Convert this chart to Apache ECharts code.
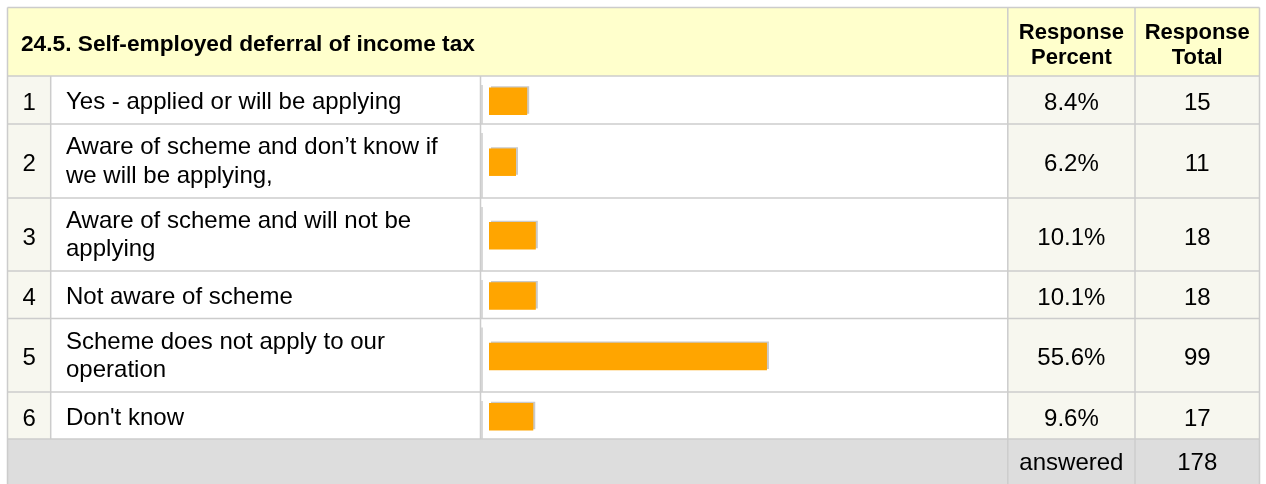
<!DOCTYPE html>
<html><head><meta charset="utf-8">
<script src="https://cdn.jsdelivr.net/npm/echarts@6/dist/echarts.min.js"></script>
<style>html,body{margin:0;padding:0;background:#fff}#c{width:1266px;height:484px}</style>
</head><body><div id="c"></div>
<script>
// ---- data ----
const title = '24.5. Self-employed deferral of income tax';
const columnHeaders = ['Response\nPercent', 'Response\nTotal'];
const rowNumbers = ['1', '2', '3', '4', '5', '6'];
const categories = [
  'Yes - applied or will be applying',
  'Aware of scheme and don\u2019t know if\nwe will be applying,',
  'Aware of scheme and will not be\napplying',
  'Not aware of scheme',
  'Scheme does not apply to our\noperation',
  "Don't know"
];
const percentValues = [8.4, 6.2, 10.1, 10.1, 55.6, 9.6];
const totalValues = [15, 11, 18, 18, 99, 17];
const answeredLabel = 'answered';
const answeredTotal = 178;

// ---- layout ----
const FONT = '"Liberation Sans", Arial, Helvetica, sans-serif';
const BODY = '24px ' + FONT;
const BOLD_T = 'bold 22.7px ' + FONT;
const BOLD_H = 'bold 22px ' + FONT;
const L = 7.5, R = 1259.5;
const colX = [L, 50.7, 480.5, 1007.8, 1135, R];
const headerTop = 7.5;
const rowBounds = [76, 124, 198, 271, 318.5, 392, 439];
const footerBottom = 492;
const BORDER = '#CCCCCC';
const CELL_BG = '#F7F7EF';
const HEAD_BG = '#FFFFCC';
const FOOT_BG = '#DDDDDD';
const ZERO_X = 484.5, PX_PER_PCT = 5.08, CLIP_X = 489, GRID_W = 520;
const X_MIN = (CLIP_X - ZERO_X) / PX_PER_PCT;
const X_MAX = X_MIN + GRID_W / PX_PER_PCT;

const g = [];
function rect(x, y, w, h, fill, z) { g.push({type: 'rect', silent: true, z: z || 0, shape: {x, y, width: w, height: h}, style: {fill}}); }
function line(x1, y1, x2, y2, w) { g.push({type: 'line', silent: true, z: 5, shape: {x1, y1, x2, y2}, style: {stroke: BORDER, lineWidth: w || 1.5}}); }
function text(t, x, y, font, align, lh) {
  g.push({type: 'text', silent: true, z: 20, style: {text: t, x, y, font, fill: '#000', align: align, verticalAlign: 'middle', lineHeight: lh || 28.5}});
}

// backgrounds
rect(L, headerTop, R - L, rowBounds[0] - headerTop, HEAD_BG);
rect(L, rowBounds[6], R - L, footerBottom - rowBounds[6], FOOT_BG);
for (let i = 0; i < 6; i++) {
  const t = rowBounds[i], h = rowBounds[i + 1] - rowBounds[i];
  rect(colX[0], t, colX[1] - colX[0], h, CELL_BG);
  rect(colX[1], t, colX[3] - colX[1], h, '#FFFFFF');
  rect(colX[3], t, colX[5] - colX[3], h, CELL_BG);
}
// grid lines
line(L, headerTop, R, headerTop);
rowBounds.forEach(y => line(L, y, R, y));
line(L, headerTop, L, footerBottom);
line(R, headerTop, R, footerBottom);
line(colX[3], headerTop, colX[3], footerBottom);
line(colX[4], headerTop, colX[4], footerBottom);
line(colX[1], rowBounds[0], colX[1], rowBounds[6]);
line(colX[2], rowBounds[0], colX[2], rowBounds[6]);
for (let i = 0; i < 6; i++) line(colX[2] + 1.5, rowBounds[i] + 9, colX[2] + 1.5, rowBounds[i + 1]);

// texts
text(title, 21, 45, BOLD_T, 'left');
text(columnHeaders[0], (colX[3] + colX[4]) / 2, 45.5, BOLD_H, 'center', 25.5);
text(columnHeaders[1], (colX[4] + colX[5]) / 2, 45.5, BOLD_H, 'center', 25.5);
for (let i = 0; i < 6; i++) {
  const cy = (rowBounds[i] + rowBounds[i + 1]) / 2 + 3.5;
  const multi = categories[i].indexOf('\n') >= 0;
  text(rowNumbers[i], (colX[0] + colX[1]) / 2, cy, BODY, 'center');
  text(categories[i], 66, cy - (multi ? 2.5 : 1), BODY, 'left');
  text(percentValues[i].toFixed(1) + '%', (colX[3] + colX[4]) / 2, cy, BODY, 'center');
  text(String(totalValues[i]), (colX[4] + colX[5]) / 2, cy, BODY, 'center');
}
const fy = (rowBounds[6] + 484) / 2 + 1.5;
text(answeredLabel, (colX[3] + colX[4]) / 2, fy, BODY, 'center');
text(String(answeredTotal), (colX[4] + colX[5]) / 2, fy, BODY, 'center');

// bars: one grid per table row
const grids = [], xAxes = [], yAxes = [], series = [];
percentValues.forEach((v, i) => {
  const top = rowBounds[i], h = rowBounds[i + 1] - rowBounds[i];
  grids.push({left: CLIP_X, top: top + 1.2, width: GRID_W, height: h, show: false});
  xAxes.push({type: 'value', gridIndex: i, min: X_MIN, max: X_MAX, show: false});
  yAxes.push({type: 'category', gridIndex: i, data: [categories[i]], show: false});
  series.push({
    type: 'bar', xAxisIndex: i, yAxisIndex: i, data: [v], barWidth: 27.5, clip: true, z: 10, silent: true,
    itemStyle: {color: '#FFA500', shadowColor: '#C9C9C9', shadowOffsetX: 2, shadowOffsetY: -1.2, shadowBlur: 0}
  });
});

const chart = echarts.init(document.getElementById('c'), null, {renderer: 'canvas'});
chart.setOption({
  animation: false,
  backgroundColor: '#FFFFFF',
  grid: grids, xAxis: xAxes, yAxis: yAxes, series: series,
  graphic: {elements: g}
});
</script></body></html>
